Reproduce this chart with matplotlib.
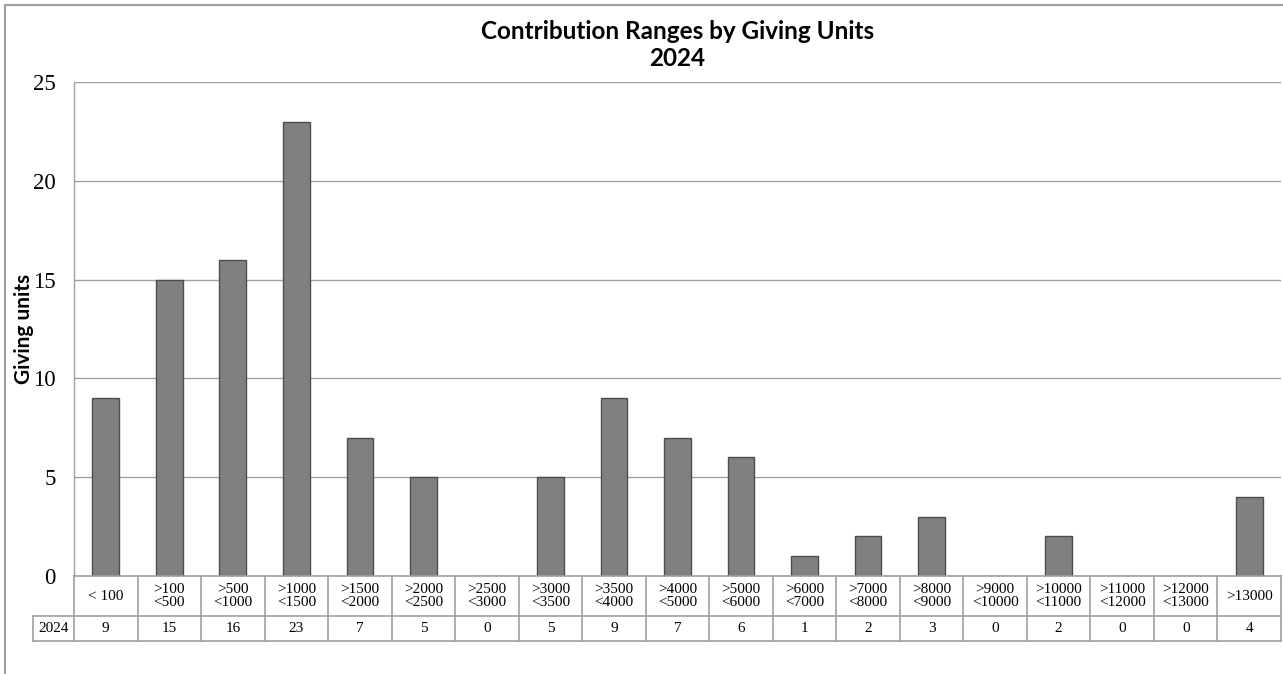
import matplotlib
matplotlib.use("Agg")
import matplotlib.pyplot as plt
from matplotlib.lines import Line2D
from matplotlib.transforms import blended_transform_factory

categories = ["< 100", ">100\n<500", ">500\n<1000", ">1000\n<1500", ">1500\n<2000",
              ">2000\n<2500", ">2500\n<3000", ">3000\n<3500", ">3500\n<4000",
              ">4000\n<5000", ">5000\n<6000", ">6000\n<7000", ">7000\n<8000",
              ">8000\n<9000", ">9000\n<10000", ">10000\n<11000", ">11000\n<12000",
              ">12000\n<13000", ">13000"]
values = [9, 15, 16, 23, 7, 5, 0, 5, 9, 7, 6, 1, 2, 3, 0, 2, 0, 0, 4]
series_name = "2024"
yticks = [0, 5, 10, 15, 20, 25]
title = "Contribution Ranges by Giving Units\n2024"
ylabel = "Giving units"

W, H = 1283, 674
fig = plt.figure(figsize=(W / 100, H / 100), dpi=100)

def fx(px):
    return px / W

def fy(py):
    return 1 - py / H

ax_left, ax_right, ax_top, ax_bot = 74, 1281, 82, 576
ax = fig.add_axes([fx(ax_left), fy(ax_bot), fx(ax_right - ax_left), (ax_bot - ax_top) / H])

grid_c = "#a0a0a0"
x = list(range(len(categories)))
ax.bar(x, values, width=0.42, color="#808080", edgecolor="#4d4d4d", linewidth=1.0, zorder=3)
ax.set_xlim(-0.5, len(categories) - 0.5)
ax.set_ylim(0, 25)
ax.set_yticks(yticks)
ax.set_yticklabels([str(t) for t in yticks], fontfamily="Liberation Serif", fontsize=16.5)
ax.tick_params(axis="y", length=0, pad=13)
ax.set_xticks([])
ax.grid(axis="y", color=grid_c, linewidth=1.0, zorder=0)
for s in ["top", "right", "bottom"]:
    ax.spines[s].set_visible(False)
ax.spines["left"].set_color(grid_c)
ax.spines["left"].set_linewidth(1.0)

# table below the axes
tr = blended_transform_factory(ax.transData, fig.transFigure)
y0, y1, y2 = fy(576), fy(616), fy(641)
lk = dict(color=grid_c, linewidth=1.2, clip_on=False)
fs_tab = 11
fig.add_artist(Line2D([fx(ax_left), fx(ax_right)], [y0, y0], **lk))
fig.add_artist(Line2D([fx(33), fx(ax_right)], [y1, y1], **lk))
fig.add_artist(Line2D([fx(33), fx(ax_right)], [y2, y2], **lk))
fig.add_artist(Line2D([fx(33), fx(33)], [y1, y2], **lk))
fig.add_artist(Line2D([fx(ax_left), fx(ax_left)], [y0, y2], **lk))
for i in range(len(categories)):
    xb = i + 0.5
    fig.add_artist(Line2D([xb, xb], [y0, y2], transform=tr, **lk))
    fig.text(i, (y0 + y1) / 2, categories[i], transform=tr, ha="center", va="center",
             fontfamily="Liberation Serif", fontsize=fs_tab, linespacing=0.95)
    fig.text(i, (y1 + y2) / 2, str(values[i]), transform=tr, ha="center", va="center",
             fontfamily="Liberation Serif", fontsize=fs_tab)
fig.text(fx((33 + ax_left) / 2), (y1 + y2) / 2, series_name, ha="center", va="center",
         fontfamily="Liberation Serif", fontsize=fs_tab)

# title and y label
fig.text(fx((ax_left + ax_right) / 2), fy(45), title, ha="center", va="center",
         fontfamily="Lato", fontweight="bold", fontsize=17.5, linespacing=1.25)
fig.text(fx(24), fy(329), ylabel, ha="center", va="center", rotation=90,
         fontfamily="Lato", fontweight="bold", fontsize=15)

# outer chart frame
fig.add_artist(Line2D([fx(5), fx(W)], [fy(5), fy(5)], color=grid_c, linewidth=1.5))
fig.add_artist(Line2D([fx(5), fx(5)], [fy(5), 0], color=grid_c, linewidth=1.5))

fig.savefig("out.png", dpi=100)
